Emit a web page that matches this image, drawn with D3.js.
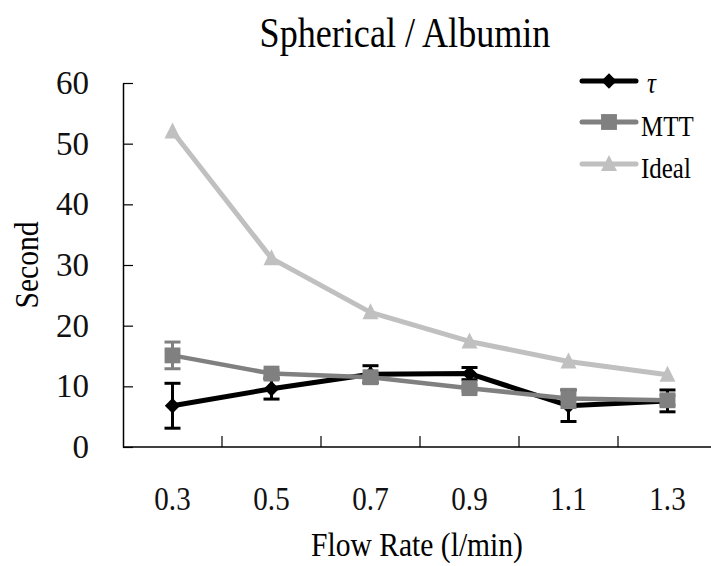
<!DOCTYPE html>
<html>
<head>
<meta charset="utf-8">
<script src="https://cdn.jsdelivr.net/npm/d3@7"></script>
<style>
  body { margin: 0; background: #fff; }
  svg { display: block; font-family: "Liberation Serif", "DejaVu Serif", serif; }
</style>
</head>
<body>
<svg id="chart" width="711" height="566"></svg>
<script>
// chart data
const flowRates = ['0.3', '0.5', '0.7', '0.9', '1.1', '1.3'];
const tauValues = [6.8, 9.6, 12.0, 12.1, 6.8, 7.6];
const tauErrors = [3.7, 1.7, 1.4, 1.0, 2.6, 1.8];
const mttValues = [15.1, 12.1, 11.5, 9.7, 8.0, 7.7];
const mttErrors = [2.2, 0.5, 0.5, 0.5, 1.5, 0.8];
const idealValues = [52.0, 31.1, 22.2, 17.4, 14.1, 11.9];
const yTicks = [0, 10, 20, 30, 40, 50, 60];

// tall triangle marker (16 wide, 16 high)
const tallTriangle = {
    draw(ctx, size) {
        const h = Math.sqrt(size);
        ctx.moveTo(0, -h / 2 - 1);
        ctx.lineTo(h / 2, h / 2 - 1);
        ctx.lineTo(-h / 2, h / 2 - 1);
        ctx.closePath();
    }
};

const series = [
    { name: 'tau', label: '\u03c4', values: tauValues, errors: tauErrors, color: '#000000', symbol: d3.symbolDiamond2, size: 150, width: 5 },
    { name: 'mtt', label: 'MTT', values: mttValues, errors: mttErrors, color: '#808080', symbol: d3.symbolSquare2, size: 320, width: 4.5 },
    { name: 'ideal', label: 'Ideal', values: idealValues, errors: null, color: '#c0c0c0', symbol: tallTriangle, size: 256, width: 5 }
];

const svg = d3.select('#chart');

const plot = { left: 123, right: 717, top: 83, bottom: 447 };

const x = d3.scaleBand()
    .domain(flowRates)
    .range([plot.left, plot.right]);

const y = d3.scaleLinear()
    .domain([0, 60])
    .range([plot.bottom, plot.top]);

const cx = d => x(d) + x.bandwidth() / 2;

// condensed serif text helper
function label(parent, px, py, text, size, anchor, sx = 0.87, rotate = 0) {
    return parent.append('text')
        .attr('transform', `translate(${px},${py}) rotate(${rotate}) scale(${sx},1)`)
        .attr('text-anchor', anchor)
        .style('font-size', size + 'px')
        .attr('fill', '#000')
        .text(text);
}

// Title
label(svg, 405, 47, 'Spherical / Albumin', 42, 'middle', 0.86);

// Y axis
const yAxis = svg.append('g')
    .attr('transform', `translate(${plot.left},0)`)
    .call(d3.axisLeft(y)
        .tickValues(yTicks)
        .tickSizeInner(-10)
        .tickSizeOuter(0)
        .tickPadding(34));
yAxis.select('.domain').attr('stroke', '#000').attr('stroke-width', 1.5);
yAxis.selectAll('.tick line').attr('stroke', '#000').attr('stroke-width', 1.2);
yAxis.selectAll('.tick text')
    .style('font-family', '"Liberation Serif", serif')
    .style('font-size', '33px')
    .attr('fill', '#111');

// X axis: line, boundary ticks, centered labels
const xAxis = svg.append('g')
    .attr('transform', `translate(0,${plot.bottom})`);

xAxis.append('line')
    .attr('x1', plot.left).attr('x2', plot.right)
    .attr('stroke', '#000').attr('stroke-width', 1.5);

xAxis.selectAll('line.boundary')
    .data(flowRates.slice(1))
    .join('line')
    .attr('class', 'boundary')
    .attr('x1', d => x(d)).attr('x2', d => x(d))
    .attr('y1', 0).attr('y2', -11)
    .attr('stroke', '#000').attr('stroke-width', 1.2);

xAxis.selectAll('text.xlabel')
    .data(flowRates)
    .join('text')
    .attr('class', 'xlabel')
    .attr('transform', d => `translate(${cx(d)},63) scale(0.88,1)`)
    .attr('text-anchor', 'middle')
    .style('font-size', '33px')
    .attr('fill', '#111')
    .text(d => d);

// Axis titles
label(svg, 417, 556, 'Flow Rate (l/min)', 34, 'middle');
label(svg, 38, 265, 'Second', 34, 'middle', 0.87, -90);

// Series
const line = d3.line()
    .x(d => cx(d.rate))
    .y(d => y(d.value));

series.forEach(s => {
    const pts = flowRates.map((rate, i) => ({
        rate, value: s.values[i], err: s.errors ? s.errors[i] : 0
    }));
    const g = svg.append('g').attr('class', `series ${s.name}`);

    if (s.errors) {
        const eb = g.selectAll('g.err').data(pts).join('g').attr('class', 'err');
        eb.append('line')
            .attr('x1', d => cx(d.rate)).attr('x2', d => cx(d.rate))
            .attr('y1', d => y(d.value - d.err)).attr('y2', d => y(d.value + d.err))
            .attr('stroke', s.color).attr('stroke-width', 3);
        [-1, 1].forEach(sign => {
            eb.append('line')
                .attr('x1', d => cx(d.rate) - 8).attr('x2', d => cx(d.rate) + 8)
                .attr('y1', d => y(d.value + sign * d.err)).attr('y2', d => y(d.value + sign * d.err))
                .attr('stroke', s.color).attr('stroke-width', 3);
        });
    }

    g.append('path')
        .datum(pts)
        .attr('d', line)
        .attr('fill', 'none')
        .attr('stroke', s.color)
        .attr('stroke-width', s.width)
        .attr('stroke-linejoin', 'round');

    g.selectAll('path.marker')
        .data(pts)
        .join('path')
        .attr('class', 'marker')
        .attr('transform', d => `translate(${cx(d.rate)},${y(d.value)})`)
        .attr('d', d3.symbol().type(s.symbol).size(s.size))
        .attr('fill', s.color);
});

// Legend
const legend = svg.append('g').attr('class', 'legend');
const legendRows = [81, 122, 164];
series.forEach((s, i) => {
    const ly = legendRows[i];
    legend.append('line')
        .attr('x1', 582).attr('x2', 636)
        .attr('y1', ly).attr('y2', ly)
        .attr('stroke', s.color).attr('stroke-width', 5)
        .attr('stroke-linecap', 'round');
    legend.append('path')
        .attr('transform', `translate(609,${ly})`)
        .attr('d', d3.symbol().type(s.symbol).size(s.size))
        .attr('fill', s.color);
    const t = label(legend, s.name === 'tau' ? 647 : 641, ly + (s.name === 'tau' ? 12 : 14), s.label, 29, 'start', 0.86);
    if (s.name === 'tau') t.style('font-style', 'italic');
});
</script>
</body>
</html>
